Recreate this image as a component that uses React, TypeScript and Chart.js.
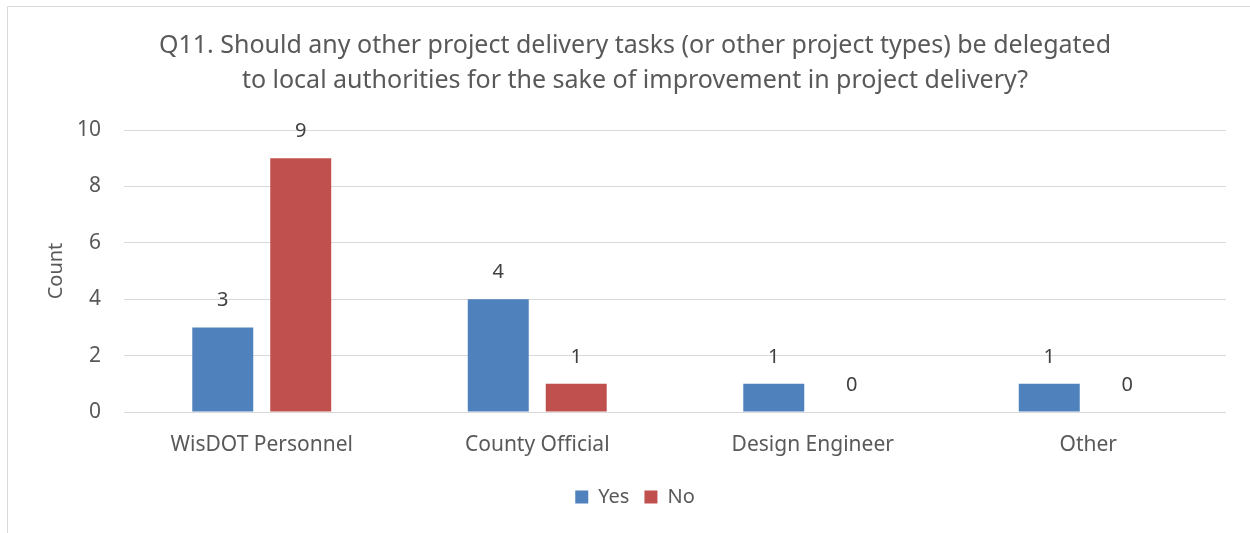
import React, { useEffect, useRef } from "react";
import { Chart, registerables } from "chart.js";

Chart.register(...registerables);

const categories = ["WisDOT Personnel", "County Official", "Design Engineer", "Other"];
const yesValues = [3, 4, 1, 1];
const noValues = [9, 1, 0, 0];
const titleLines = [
  "Q11. Should any other project delivery tasks (or other project types) be delegated",
  "to local authorities for the sake of improvement in project delivery?",
];
const FONT = "Noto Sans, Open Sans, sans-serif";

const labelsPlugin = {
  id: "valueLabels",
  afterDatasetsDraw(chart: any) {
    const ctx = chart.ctx;
    ctx.save();
    ctx.font = `20px ${FONT}`;
    ctx.fillStyle = "#404040";
    ctx.textAlign = "center";
    ctx.textBaseline = "middle";
    chart.data.datasets.forEach((ds: any, i: number) => {
      const meta = chart.getDatasetMeta(i);
      meta.data.forEach((bar: any, j: number) => {
        ctx.fillText(String(ds.data[j]), bar.x, bar.y - 27);
      });
    });
    ctx.restore();
  },
};

const borderPlugin = {
  id: "outerBorder",
  beforeDraw(chart: any) {
    const ctx = chart.ctx;
    ctx.save();
    ctx.fillStyle = "#ffffff";
    ctx.fillRect(0, 0, chart.width, chart.height);
    ctx.strokeStyle = "#D9D9D9";
    ctx.lineWidth = 1;
    ctx.beginPath();
    ctx.moveTo(7.5, chart.height + 5);
    ctx.lineTo(7.5, 6.5);
    ctx.lineTo(chart.width + 5, 6.5);
    ctx.stroke();
    ctx.restore();
  },
};

export default function App() {
  const ref = useRef<HTMLCanvasElement | null>(null);
  useEffect(() => {
    document.body.style.margin = "0";
    const chart = new Chart(ref.current as HTMLCanvasElement, {
      type: "bar",
      data: {
        labels: categories,
        datasets: [
          {
            label: "Yes",
            data: yesValues,
            backgroundColor: "#4F81BD",
            categoryPercentage: 0.566,
            barPercentage: 0.782,
          },
          {
            label: "No",
            data: noValues,
            backgroundColor: "#C0504D",
            categoryPercentage: 0.566,
            barPercentage: 0.782,
          },
        ],
      },
      options: {
        animation: false,
        responsive: false,
        layout: { padding: { left: 44, right: 24, top: 0, bottom: 16 } },
        plugins: {
          title: {
            display: true,
            text: titleLines,
            color: "#595959",
            font: { family: FONT, size: 25, weight: "normal", lineHeight: 1.4 },
            padding: { top: 28, bottom: 32 },
          },
          legend: {
            position: "bottom",
            labels: {
              color: "#595959",
              font: { family: FONT, size: 20 },
              boxWidth: 13,
              boxHeight: 13,
              padding: 15,
            },
          },
          tooltip: { enabled: false },
        },
        scales: {
          x: {
            grid: { display: false },
            border: { display: false },
            ticks: { color: "#595959", font: { family: FONT, size: 21 }, padding: 12 },
            afterFit: (s: any) => {
              s.height = 60;
            },
          },
          y: {
            min: 0,
            max: 10,
            ticks: { stepSize: 2, color: "#595959", font: { family: FONT, size: 21 }, padding: 23 },
            grid: { color: "#D9D9D9", drawTicks: false },
            border: { display: false },
            title: {
              display: true,
              text: "Count",
              color: "#595959",
              font: { family: FONT, size: 20 },
              padding: 0,
            },
            afterFit: (s: any) => {
              s.width = 80;
            },
          },
        },
      },
      plugins: [labelsPlugin, borderPlugin],
    });
    return () => chart.destroy();
  }, []);
  return (
    <div style={{ width: 1250, height: 533 }}>
      <canvas ref={ref} width={1250} height={533} style={{ display: "block" }} />
    </div>
  );
}
